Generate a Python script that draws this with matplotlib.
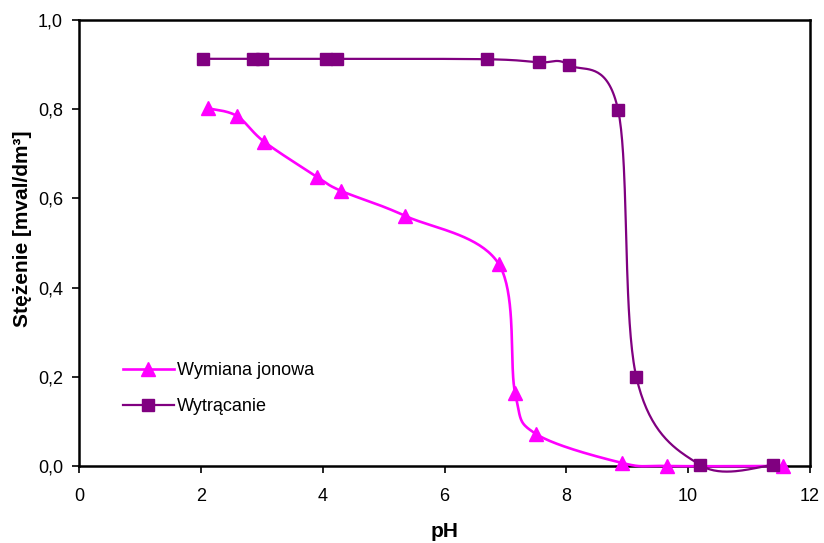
import numpy as np
import matplotlib
matplotlib.use("Agg")
import matplotlib.pyplot as plt
from matplotlib.ticker import FuncFormatter

plt.rcParams['font.family'] = ['Liberation Sans', 'DejaVu Sans']

# Data
ph_jon = [2.12, 2.59, 3.04, 3.90, 4.30, 5.35, 6.89, 7.16, 7.50, 8.91, 9.65, 11.56]
c_jon = [0.802, 0.785, 0.727, 0.649, 0.617, 0.561, 0.453, 0.163, 0.072, 0.007, 0.0, 0.0]
ph_wyt = [2.04, 2.85, 3.00, 4.05, 4.24, 6.70, 7.55, 8.05, 8.85, 9.15, 10.20, 11.40]
c_wyt = [0.913, 0.913, 0.913, 0.913, 0.913, 0.912, 0.905, 0.899, 0.798, 0.199, 0.002, 0.002]
labels = ["Wymiana jonowa", "Wytrącanie"]

W, H = 824, 543
fig = plt.figure(figsize=(W / 100, H / 100), dpi=100)
ax = fig.add_axes([79 / W, 1 - 466 / H, (810 - 79) / W, (466 - 20) / H])
XMIN, XMAX, YMIN, YMAX = 0, 12, 0, 1.0
sx = (810 - 79) / (XMAX - XMIN)
sy = (466 - 20) / (YMAX - YMIN)


def smooth(x, y, n=40):
    # Excel-like smoothing: Catmull-Rom / Bezier in screen space
    P = np.column_stack([np.asarray(x) * sx, np.asarray(y) * sy])
    out = [P[0]]
    for i in range(len(P) - 1):
        p0 = P[i - 1] if i > 0 else P[i]
        p1 = P[i]
        p2 = P[i + 1]
        p3 = P[i + 2] if i + 2 < len(P) else P[i + 1]
        c1 = p1 + (p2 - p0) / 6
        c2 = p2 - (p3 - p1) / 6
        t = np.linspace(0, 1, n)[1:, None]
        seg = ((1 - t) ** 3) * p1 + 3 * ((1 - t) ** 2) * t * c1 + 3 * (1 - t) * t ** 2 * c2 + t ** 3 * p2
        out.extend(seg)
    out = np.array(out)
    return out[:, 0] / sx, out[:, 1] / sy


mag = '#FF00FF'
pur = '#800080'

xs, ys = smooth(ph_jon, c_jon)
ax.plot(xs, ys, color=mag, lw=1.9, zorder=3, clip_on=False)
ax.plot(ph_jon, c_jon, ls='none', marker='^', ms=9.5, color=mag, zorder=4, clip_on=False)
xs, ys = smooth(ph_wyt, c_wyt)
ax.plot(xs, ys, color=pur, lw=1.6, zorder=3, clip_on=False)
ax.plot(ph_wyt, c_wyt, ls='none', marker='s', ms=8.5, color=pur, zorder=4, clip_on=False)

# legend handles
h1, = ax.plot([], [], color=mag, lw=1.9, marker='^', ms=9.5)
h2, = ax.plot([], [], color=pur, lw=1.6, marker='s', ms=8.5)
leg = ax.legend([h1, h2], labels, loc='upper left', bbox_to_anchor=(44 / (810 - 79), (466 - 362) / 446),
                frameon=False, fontsize=13, handlelength=2.8, handletextpad=0.2,
                labelspacing=1.05, borderaxespad=0, borderpad=0)

ax.set_xlim(XMIN, XMAX)
ax.set_ylim(YMIN, YMAX)
ax.set_xticks(np.arange(0, 13, 2))
ax.set_yticks(np.arange(0, 1.01, 0.2))
ax.yaxis.set_major_formatter(FuncFormatter(lambda v, p: f"{v:.1f}".replace('.', ',')))
ax.tick_params(direction='out', length=5, width=1.2, labelsize=13)
ax.tick_params(axis='y', pad=6.5)
ax.tick_params(axis='x', pad=11)
for s in ax.spines.values():
    s.set_linewidth(1.8)
    s.set_color('black')

ax.set_xlabel('pH', fontsize=15, fontweight='bold', labelpad=12)
ax.set_ylabel('Stężenie [mval/dm³]', fontsize=15, fontweight='bold', labelpad=8)
ax.yaxis.set_label_coords(-0.064, (466 - 229) / 446)

fig.savefig('out.png', dpi=100)
